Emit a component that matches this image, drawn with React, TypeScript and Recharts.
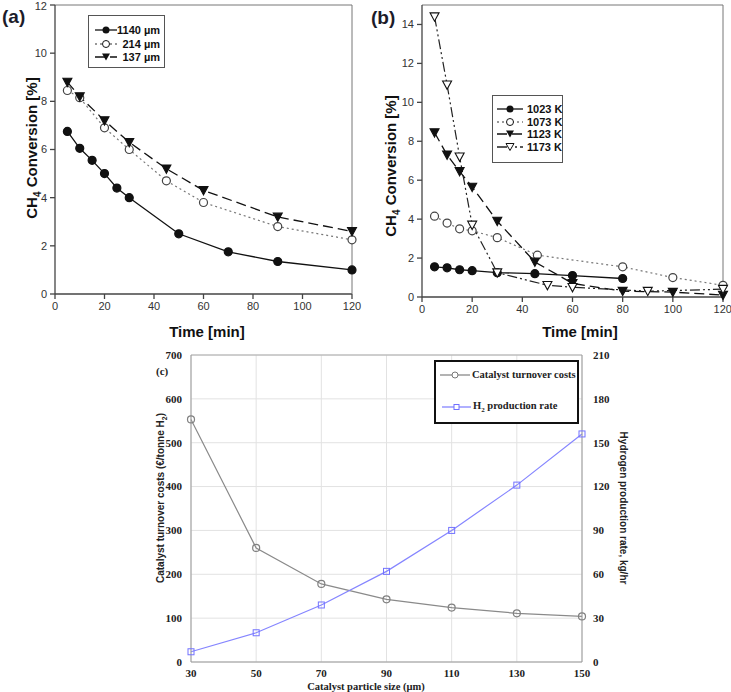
import React from "react";
import { LineChart, Line, XAxis, YAxis, CartesianGrid } from "recharts";

const SANS = '"Liberation Sans", Arial, sans-serif';
const SERIF = '"Liberation Serif", "Times New Roman", serif';

// panel (a): conversion vs time for three particle sizes
const timeA1140 = [5, 10, 15, 20, 25, 30, 50, 70, 90, 120];
const convA1140 = [6.75, 6.05, 5.55, 5.0, 4.4, 4.0, 2.5, 1.75, 1.35, 1.0];
const timeA214 = [5, 10, 20, 30, 45, 60, 90, 120];
const convA214 = [8.45, 8.15, 6.9, 6.0, 4.7, 3.8, 2.8, 2.25];
const timeA137 = [5, 10, 20, 30, 45, 60, 90, 120];
const convA137 = [8.8, 8.2, 7.2, 6.3, 5.2, 4.3, 3.2, 2.6];

// panel (b): conversion vs time for four temperatures
const timeB1023 = [5, 10, 15, 20, 30, 45, 60, 80];
const convB1023 = [1.55, 1.5, 1.4, 1.35, 1.25, 1.2, 1.1, 0.95];
const timeB1073 = [5, 10, 15, 20, 30, 46, 80, 100, 120];
const convB1073 = [4.15, 3.8, 3.5, 3.4, 3.05, 2.15, 1.55, 1.0, 0.6];
const timeB1123 = [5, 10, 15, 20, 30, 45, 60, 80, 100, 120];
const convB1123 = [8.45, 7.3, 6.45, 5.65, 3.9, 1.8, 0.7, 0.3, 0.25, 0.1];
const timeB1173 = [5, 10, 15, 20, 30, 50, 60, 90, 120];
const convB1173 = [14.4, 10.9, 7.2, 3.7, 1.25, 0.6, 0.5, 0.3, 0.4];

// panel (c): costs and H2 rate vs particle size
const particleSize = [30, 50, 70, 90, 110, 130, 150];
const turnoverCost = [553, 260, 178, 143, 124, 111, 104];
const h2Rate = [7, 20, 39, 62, 90, 121, 156];

const timeTicks = [0, 20, 40, 60, 80, 100, 120];
const convTicksA = [0, 2, 4, 6, 8, 10, 12];
const convTicksB = [0, 2, 4, 6, 8, 10, 12, 14];
const sizeTicks = [30, 50, 70, 90, 110, 130, 150];
const costTicks = [0, 100, 200, 300, 400, 500, 600, 700];
const rateTicks = [0, 30, 60, 90, 120, 150, 180, 210];

const pairs = (xs: number[], ys: number[]) => xs.map((x, i) => ({ x, y: ys[i] }));
const cData = particleSize.map((s, i) => ({ s, cost: turnoverCost[i], rate: h2Rate[i] }));

const circleDot = (fill: string, stroke = "#111", r = 4) => (p: any) => (
  <circle key={`c${p.index}`} cx={p.cx} cy={p.cy} r={r} fill={fill} stroke={stroke} strokeWidth={1.2} />
);
const triDot = (fill: string) => (p: any) => (
  <path
    key={`t${p.index}`}
    d={`M${p.cx - 4.5},${p.cy - 3.8}L${p.cx + 4.5},${p.cy - 3.8}L${p.cx},${p.cy + 4.5}Z`}
    fill={fill}
    stroke="#111"
    strokeWidth={1.1}
  />
);
const squareDot = (stroke: string) => (p: any) => (
  <rect key={`s${p.index}`} x={p.cx - 3} y={p.cy - 3} width={6} height={6} fill="none" stroke={stroke} strokeWidth={1} />
);

const tickAB = { fontSize: 11, fill: "#333", fontFamily: SANS };
const tickC = { fontSize: 11, fill: "#222", fontFamily: SERIF, fontWeight: 700 };

const abs = (left: number, top: number, extra: React.CSSProperties = {}): React.CSSProperties => ({
  position: "absolute",
  left,
  top,
  whiteSpace: "nowrap",
  ...extra,
});

function Rotated({ x, y, angle, style, children }: any) {
  return (
    <div
      style={{
        position: "absolute",
        left: x,
        top: y,
        whiteSpace: "nowrap",
        transform: `translate(-50%, -50%) rotate(${angle}deg)`,
        ...style,
      }}
    >
      {children}
    </div>
  );
}

function Sample({ dash, color = "#111", marker, w = 24 }: any) {
  const m = w / 2;
  return (
    <svg width={w} height={10} style={{ display: "block", flex: "none" }}>
      <line x1={0} y1={5} x2={w} y2={5} stroke={color} strokeWidth={1.3} strokeDasharray={dash} />
      {marker === "fc" && <circle cx={m} cy={5} r={3.5} fill="#111" />}
      {marker === "oc" && <circle cx={m} cy={5} r={3.5} fill="#fff" stroke="#111" />}
      {marker === "ft" && <path d={`M${m - 4},1.5L${m + 4},1.5L${m},8.5Z`} fill="#111" />}
      {marker === "ot" && <path d={`M${m - 4},1.5L${m + 4},1.5L${m},8.5Z`} fill="#fff" stroke="#111" />}
      {marker === "gc" && <circle cx={m} cy={5} r={3} fill="#fff" stroke="#777" />}
      {marker === "bs" && <rect x={m - 2.5} y={2.5} width={5} height={5} fill="#fff" stroke="#7070ff" />}
    </svg>
  );
}

const DOT = "2 3";
const LONG = "10 5";
const DASH_DOT = "10 3 2 3 2 3";

export default function App() {
  const boldSans: React.CSSProperties = { fontFamily: SANS, fontWeight: 700, color: "#111" };
  return (
    <div style={{ position: "absolute", left: 0, top: 0, width: 731, height: 692, background: "#fff", fontFamily: SANS }}>
      {/* panel (a) */}
      <div style={abs(0, 0)}>
        <LineChart width={365} height={345} margin={{ top: 5, right: 13, bottom: 0, left: 0 }}>
          <XAxis xAxisId="b" dataKey="x" type="number" domain={[0, 120]} ticks={timeTicks} height={51}
            tick={tickAB} tickSize={5} tickMargin={3} stroke="#444" strokeWidth={1.3} />
          <XAxis xAxisId="t" orientation="top" type="number" domain={[0, 120]} mirror tick={false} tickLine={false} stroke="#777" />
          <YAxis yAxisId="l" type="number" domain={[0, 12]} ticks={convTicksA} width={55}
            tick={tickAB} tickSize={5} tickMargin={3} stroke="#444" strokeWidth={1.3} />
          <YAxis yAxisId="r" orientation="right" type="number" domain={[0, 12]} mirror tick={false} tickLine={false} stroke="#777" />
          <Line xAxisId="b" yAxisId="l" data={pairs(timeA1140, convA1140)} dataKey="y" stroke="#111" strokeWidth={1.3}
            dot={circleDot("#111")} isAnimationActive={false} />
          <Line xAxisId="b" yAxisId="l" data={pairs(timeA214, convA214)} dataKey="y" stroke="#777" strokeWidth={1.2}
            strokeDasharray={DOT} dot={circleDot("#fff", "#444")} isAnimationActive={false} />
          <Line xAxisId="b" yAxisId="l" data={pairs(timeA137, convA137)} dataKey="y" stroke="#111" strokeWidth={1.3}
            strokeDasharray={LONG} dot={triDot("#111")} isAnimationActive={false} />
        </LineChart>
      </div>
      <div style={abs(2, 6, { ...boldSans, fontSize: 19, color: "#1c1c2a" })}>(a)</div>
      <Rotated x={33} y={148} angle={-90} style={{ ...boldSans, fontSize: 15 }}>
        CH<sub style={{ fontSize: 10 }}>4</sub> Conversion [%]
      </Rotated>
      <div style={abs(207, 331, { ...boldSans, fontSize: 15, transform: "translate(-50%, -50%)" })}>Time [min]</div>
      <div style={abs(88, 15, { width: 77, height: 53, border: "1px solid #555", boxSizing: "border-box", background: "#fff" })}>
        {[
          { lab: "1140 µm", dash: undefined, mk: "fc", color: "#111" },
          { lab: "214 µm", dash: DOT, mk: "oc", color: "#777" },
          { lab: "137 µm", dash: LONG, mk: "ft", color: "#111" },
        ].map((r, i) => (
          <div key={r.lab} style={abs(6, 8 + i * 13.5, { width: 69, display: "flex", alignItems: "center", justifyContent: "space-between" })}>
            <Sample dash={r.dash} marker={r.mk} color={r.color} w={22} />
            <span style={{ ...boldSans, fontSize: 11, paddingRight: 4 }}>{r.lab}</span>
          </div>
        ))}
      </div>

      {/* panel (b) */}
      <div style={abs(360, 0)}>
        <LineChart width={371} height={345} margin={{ top: 5, right: 8, bottom: 0, left: 0 }}>
          <XAxis xAxisId="b" dataKey="x" type="number" domain={[0, 120]} ticks={timeTicks} height={48}
            tick={tickAB} tickSize={5} tickMargin={3} stroke="#444" strokeWidth={1.3} />
          <XAxis xAxisId="t" orientation="top" type="number" domain={[0, 120]} mirror tick={false} tickLine={false} stroke="#777" />
          <YAxis yAxisId="l" type="number" domain={[0, 15]} ticks={convTicksB} width={62}
            tick={tickAB} tickSize={5} tickMargin={3} stroke="#444" strokeWidth={1.3} />
          <YAxis yAxisId="r" orientation="right" type="number" domain={[0, 15]} mirror tick={false} tickLine={false} stroke="#777" />
          <Line xAxisId="b" yAxisId="l" data={pairs(timeB1023, convB1023)} dataKey="y" stroke="#111" strokeWidth={1.3}
            dot={circleDot("#111")} isAnimationActive={false} />
          <Line xAxisId="b" yAxisId="l" data={pairs(timeB1073, convB1073)} dataKey="y" stroke="#777" strokeWidth={1.2}
            strokeDasharray={DOT} dot={circleDot("#fff", "#444")} isAnimationActive={false} />
          <Line xAxisId="b" yAxisId="l" data={pairs(timeB1123, convB1123)} dataKey="y" stroke="#111" strokeWidth={1.3}
            strokeDasharray={LONG} dot={triDot("#111")} isAnimationActive={false} />
          <Line xAxisId="b" yAxisId="l" data={pairs(timeB1173, convB1173)} dataKey="y" stroke="#222" strokeWidth={1.2}
            strokeDasharray={DASH_DOT} dot={triDot("#fff")} isAnimationActive={false} />
        </LineChart>
      </div>
      <div style={abs(371, 7, { ...boldSans, fontSize: 19, color: "#1c1c2a" })}>(b)</div>
      <Rotated x={392} y={166} angle={-90} style={{ ...boldSans, fontSize: 15 }}>
        CH<sub style={{ fontSize: 10 }}>4</sub> Conversion [%]
      </Rotated>
      <div style={abs(580, 331, { ...boldSans, fontSize: 15, transform: "translate(-50%, -50%)" })}>Time [min]</div>
      <div style={abs(492, 95, { width: 71, height: 68, border: "1px solid #555", boxSizing: "border-box", background: "#fff" })}>
        {[
          { lab: "1023 K", dash: undefined, mk: "fc", color: "#111" },
          { lab: "1073 K", dash: DOT, mk: "oc", color: "#777" },
          { lab: "1123 K", dash: LONG, mk: "ft", color: "#111" },
          { lab: "1173 K", dash: DASH_DOT, mk: "ot", color: "#222" },
        ].map((r, i) => (
          <div key={r.lab} style={abs(4, 7 + i * 12.7, { display: "flex", alignItems: "center", gap: 4, height: 12 })}>
            <Sample dash={r.dash} marker={r.mk} color={r.color} w={26} />
            <span style={{ ...boldSans, fontSize: 11, lineHeight: "12px" }}>{r.lab}</span>
          </div>
        ))}
      </div>

      {/* panel (c) */}
      <div style={abs(130, 340)}>
        <LineChart width={500} height={340} data={cData} margin={{ top: 15, right: 0, bottom: 0, left: 0 }}>
          <CartesianGrid yAxisId="l" stroke="#e2e2e2" />
          <XAxis dataKey="s" type="number" domain={[30, 150]} ticks={sizeTicks} height={18}
            tick={tickC} tickLine={false} tickMargin={1} stroke="#999" />
          <XAxis xAxisId="t" orientation="top" type="number" domain={[30, 150]} mirror tick={false} tickLine={false} stroke="#aaa" />
          <YAxis yAxisId="l" type="number" domain={[0, 700]} ticks={costTicks} width={61}
            tick={tickC} tickLine={false} tickMargin={3} stroke="#999" />
          <YAxis yAxisId="r" orientation="right" type="number" domain={[0, 210]} ticks={rateTicks} width={48}
            tick={{ ...tickC, textAnchor: "start" }} tickLine={false} tickMargin={5} stroke="#999" />
          <Line yAxisId="l" dataKey="cost" stroke="#8a8a8a" strokeWidth={1.2} dot={circleDot("none", "#808080", 3.5)}
            isAnimationActive={false} />
          <Line yAxisId="r" dataKey="rate" stroke="#8585ff" strokeWidth={1.2} dot={squareDot("#7373ff")}
            isAnimationActive={false} />
        </LineChart>
      </div>
      <div style={abs(156, 365, { fontFamily: SERIF, fontWeight: 700, fontSize: 11, color: "#222" })}>(c)</div>
      <Rotated x={161} y={498} angle={-90}
        style={{ fontFamily: '"Liberation Sans Narrow", "Liberation Sans", Arial, sans-serif', fontWeight: 700, fontSize: 10, color: "#222" }}>
        Catalyst turnover costs (€/tonne H<sub style={{ fontSize: 7 }}>2</sub>)
      </Rotated>
      <Rotated x={623} y={508} angle={90}
        style={{ fontFamily: '"Liberation Sans Narrow", "Liberation Sans", Arial, sans-serif', fontWeight: 700, fontSize: 10, color: "#222" }}>
        Hydrogen production rate, kg/hr
      </Rotated>
      <div style={abs(366, 686, { fontFamily: SERIF, fontWeight: 700, fontSize: 10.5, lineHeight: "11px", color: "#222", transform: "translate(-50%, -50%)" })}>
        Catalyst particle size (µm)
      </div>
      <div style={abs(434, 360, { width: 145, height: 64, border: "2px solid #111", boxSizing: "border-box", background: "#fff" })}>
        <div style={abs(4, 7, { display: "flex", alignItems: "center", gap: 2 })}>
          <Sample color="#8a8a8a" marker="gc" w={30} />
          <span style={{ fontFamily: SERIF, fontWeight: 700, fontSize: 10.5, color: "#222" }}>Catalyst turnover costs</span>
        </div>
        <div style={abs(6, 38, { display: "flex", alignItems: "center", gap: 2 })}>
          <Sample color="#8585ff" marker="bs" w={29} />
          <span style={{ fontFamily: SERIF, fontWeight: 700, fontSize: 10.5, color: "#222" }}>
            H<sub style={{ fontSize: 7 }}>2</sub> production rate
          </span>
        </div>
      </div>
    </div>
  );
}
